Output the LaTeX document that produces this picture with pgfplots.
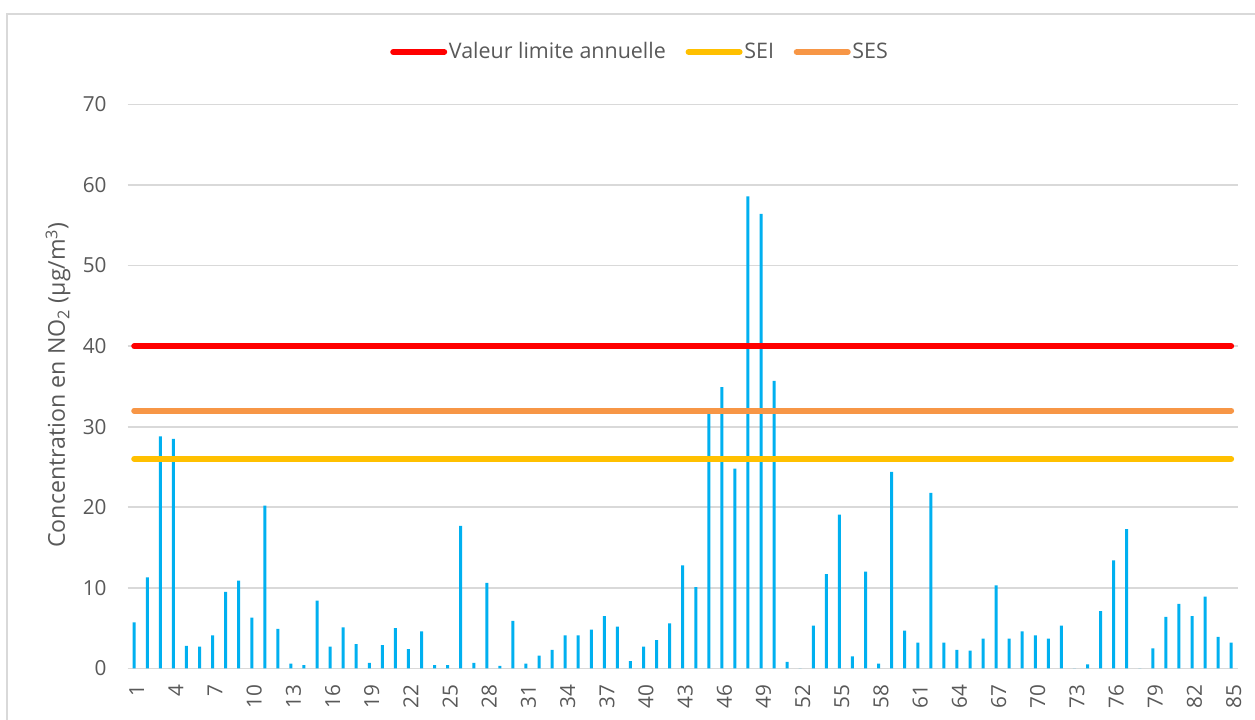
\documentclass[border=0pt]{standalone}
\usepackage{pgfplots}
\pgfplotsset{compat=1.18}
\usepackage{fontspec}
\setmainfont{Open Sans}
\definecolor{barblue}{HTML}{00B0F0}
\definecolor{vlred}{HTML}{FF0000}
\definecolor{seiyel}{HTML}{FFC000}
\definecolor{sesor}{HTML}{F79646}
\definecolor{gridg}{HTML}{D9D9D9}
\definecolor{txt}{HTML}{595959}
\pgfplotstableread{
x y
1 5.7
2 11.3
3 28.8
4 28.5
5 2.8
6 2.7
7 4.1
8 9.5
9 10.9
10 6.3
11 20.2
12 4.9
13 0.6
14 0.4
15 8.4
16 2.7
17 5.1
18 3.0
19 0.7
20 2.9
21 5.0
22 2.4
23 4.6
24 0.4
25 0.4
26 17.7
27 0.7
28 10.6
29 0.3
30 5.9
31 0.6
32 1.6
33 2.3
34 4.1
35 4.1
36 4.8
37 6.5
38 5.2
39 0.9
40 2.7
41 3.5
42 5.6
43 12.8
44 10.1
45 31.7
46 34.9
47 24.8
48 58.6
49 56.4
50 35.7
51 0.8
52 0
53 5.3
54 11.7
55 19.1
56 1.5
57 12.0
58 0.6
59 24.4
60 4.7
61 3.2
62 21.8
63 3.2
64 2.3
65 2.2
66 3.7
67 10.3
68 3.7
69 4.6
70 4.1
71 3.7
72 5.3
73 0
74 0.5
75 7.1
76 13.4
77 17.3
78 0
79 2.5
80 6.4
81 8.0
82 6.5
83 8.9
84 3.9
85 3.2
}\datatable
\begin{document}
\begin{tikzpicture}[x=1cm,y=1cm]
\useasboundingbox (0,0) rectangle (25.1,14.4);
\fill[white] (0,0) rectangle (25.1,14.4);
\draw[gridg, line width=1pt] (0.14,-1) -- (0.14,14.12) -- (26,14.12);
\begin{axis}[
 at={(2.554cm,1.032cm)}, anchor=south west,
 width=22.2cm, height=11.28cm, scale only axis,
 xmin=0.5, xmax=85.5, ymin=0, ymax=70,
 xtick={1,4,...,85}, ytick={0,10,...,70},
 ymajorgrids, grid style={gridg, line width=1pt},
 axis line style={draw=none},
 tick style={draw=none},
 /pgf/number format/assume math mode=true,
 ticklabel style={font=\fontsize{11.8}{14}\selectfont, text=txt},
 yticklabel style={xshift=-0.3cm},
 xticklabel style={rotate=90, anchor=east, yshift=-0.05cm, xshift=-0.2cm},
 legend style={at={(0.4615,1.093)}, anchor=center, draw=none, fill=none,
   legend columns=3, font=\fontsize{12.2}{14.5}\selectfont, text=txt,
   /tikz/every even column/.append style={column sep=0.36cm},
   nodes={inner sep=1pt}},
 legend image code/.code={\draw[#1, line cap=round] (0cm,0cm) -- (1.02cm,0cm);},
]
\addplot[ybar, bar width=0.06cm, fill=barblue, draw=none, forget plot] table[x=x,y=y] {\datatable};
\addplot[vlred, line width=3.4pt, line cap=round] coordinates {(1,40) (85,40)};
\addlegendentry{Valeur limite annuelle}
\addplot[seiyel, line width=3.4pt, line cap=round] coordinates {(1,26) (85,26)};
\addlegendentry{SEI}
\addplot[sesor, line width=3.4pt, line cap=round] coordinates {(1,32) (85,32)};
\addlegendentry{SES}
\end{axis}
\node[rotate=90, text=txt, font=\fontsize{13.2}{16}\selectfont] at (1.16,6.7) {Concentration en NO\textsubscript{2} (µg/m\textsuperscript{3})};
\end{tikzpicture}
\end{document}
